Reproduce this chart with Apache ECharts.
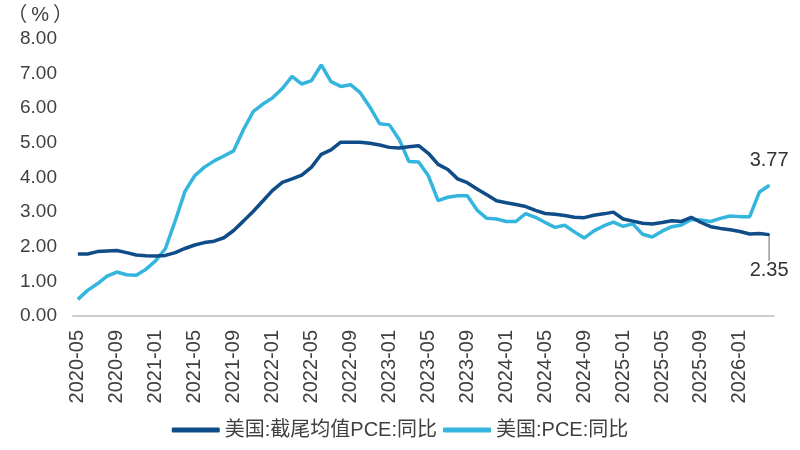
<!DOCTYPE html>
<html>
<head>
<meta charset="utf-8">
<script src="https://cdn.jsdelivr.net/npm/echarts@6/dist/echarts.min.js"></script>
<style>
  html, body { margin: 0; padding: 0; background: #fff; }
  #chart { width: 800px; height: 450px; }
</style>
</head>
<body>
<div id="chart"></div>
<script>
// 月份（2020-05 ~ 2026-04）
const months = [
  '2020-05', '2020-06', '2020-07', '2020-08', '2020-09', '2020-10', '2020-11', '2020-12',
  '2021-01', '2021-02', '2021-03', '2021-04', '2021-05', '2021-06', '2021-07', '2021-08', '2021-09', '2021-10', '2021-11', '2021-12',
  '2022-01', '2022-02', '2022-03', '2022-04', '2022-05', '2022-06', '2022-07', '2022-08', '2022-09', '2022-10', '2022-11', '2022-12',
  '2023-01', '2023-02', '2023-03', '2023-04', '2023-05', '2023-06', '2023-07', '2023-08', '2023-09', '2023-10', '2023-11', '2023-12',
  '2024-01', '2024-02', '2024-03', '2024-04', '2024-05', '2024-06', '2024-07', '2024-08', '2024-09', '2024-10', '2024-11', '2024-12',
  '2025-01', '2025-02', '2025-03', '2025-04', '2025-05', '2025-06', '2025-07', '2025-08', '2025-09', '2025-10', '2025-11', '2025-12',
  '2026-01', '2026-02', '2026-03', '2026-04'
];

// 美国:截尾均值PCE:同比
const trimmedPce = [
  1.79, 1.79, 1.86, 1.88, 1.89, 1.83, 1.76, 1.74, 1.73, 1.75,
  1.83, 1.95, 2.05, 2.12, 2.16, 2.26, 2.47, 2.74, 3.02, 3.32,
  3.63, 3.86, 3.96, 4.07, 4.30, 4.67, 4.80, 5.02, 5.02, 5.02,
  4.99, 4.94, 4.87, 4.85, 4.89, 4.92, 4.70, 4.38, 4.23, 3.96,
  3.85, 3.67, 3.50, 3.33, 3.27, 3.22, 3.16, 3.05, 2.96, 2.94,
  2.90, 2.85, 2.84, 2.91, 2.95, 3.00, 2.80, 2.74, 2.68, 2.66,
  2.70, 2.75, 2.73, 2.85, 2.70, 2.58, 2.53, 2.49, 2.44, 2.37,
  2.38, 2.35
];

// 美国:PCE:同比
const pce = [
  0.48, 0.74, 0.93, 1.15, 1.27, 1.19, 1.18, 1.35, 1.60, 1.95,
  2.75, 3.60, 4.05, 4.30, 4.48, 4.62, 4.77, 5.38, 5.90, 6.12,
  6.30, 6.57, 6.92, 6.70, 6.80, 7.25, 6.77, 6.63, 6.68, 6.45,
  6.03, 5.55, 5.52, 5.10, 4.46, 4.45, 4.05, 3.33, 3.43, 3.47,
  3.47, 3.06, 2.82, 2.80, 2.73, 2.73, 2.96, 2.85, 2.70, 2.56,
  2.62, 2.43, 2.25, 2.46, 2.60, 2.71, 2.59, 2.66, 2.36, 2.28,
  2.45, 2.58, 2.63, 2.79, 2.77, 2.73, 2.82, 2.89, 2.87, 2.87,
  3.58, 3.77
];

const textColor = '#404040';
const darkBlue = '#0f4c88';
const lightBlue = '#33b5de';

// 只在最后一个点显示数值
function lastOnly(arr, pos) {
  return arr.map((v, i) => i === arr.length - 1
    ? { value: v, symbol: 'circle', symbolSize: 2, label: { show: true, position: pos } }
    : { value: v, symbol: 'none' });
}

const chart = echarts.init(document.getElementById('chart'));
chart.setOption({
  animation: false,
  textStyle: { fontFamily: 'Liberation Sans, "Noto Sans CJK SC", sans-serif' },
  grid: { left: 73, right: 26, top: 39, bottom: 134, outerBoundsMode: 'none' },
  legend: {
    bottom: 5,
    left: 'center',
    itemWidth: 48,
    itemHeight: 5,
    itemGap: 6,
    icon: 'roundRect',
    textStyle: { fontSize: 20, color: textColor },
    data: ['美国:截尾均值PCE:同比', '美国:PCE:同比']
  },
  xAxis: {
    type: 'category',
    data: months,
    boundaryGap: true,
    axisLine: { lineStyle: { color: '#cccccc', width: 2 } },
    axisTick: { interval: 3, length: 7, lineStyle: { color: '#cccccc', width: 1.5 } },
    axisLabel: { interval: 3, rotate: 90, margin: 14, fontSize: 20, color: textColor }
  },
  yAxis: {
    type: 'value',
    min: 0,
    max: 8,
    interval: 1,
    name: '（\u2009%\u2009）',
    nameGap: 14,
    nameTextStyle: {
      fontSize: 20, color: textColor, align: 'right', padding: [0, 0, 0, 0]
    },
    axisLine: { show: false },
    axisTick: { show: false },
    splitLine: { show: false },
    axisLabel: { margin: 16, fontSize: 19, color: textColor, formatter: v => v.toFixed(2) }
  },
  series: [
    {
      name: '美国:截尾均值PCE:同比',
      type: 'line',
      data: lastOnly(trimmedPce, 'bottom'),
      showSymbol: true,
      color: darkBlue,
      lineStyle: { width: 3.5 },
      label: { fontSize: 20, color: '#333', formatter: p => p.value.toFixed(2) },
      labelLayout: { dy: 20 },
      labelLine: { show: true, lineStyle: { color: '#999', width: 1.5 } },
      z: 3
    },
    {
      name: '美国:PCE:同比',
      type: 'line',
      data: lastOnly(pce, 'top'),
      showSymbol: true,
      color: lightBlue,
      lineStyle: { width: 3.5 },
      label: { fontSize: 20, color: '#333', distance: 14, formatter: p => p.value.toFixed(2) },
      z: 2
    }
  ]
});
</script>
</body>
</html>
